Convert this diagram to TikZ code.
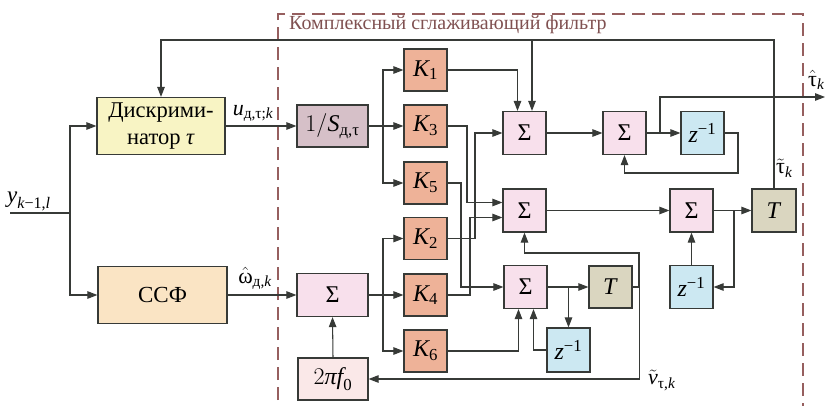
\RequirePackage{fix-cm}
\documentclass[tikz,border=0pt]{standalone}
\usepackage{amsmath}
\usepackage{fontspec}
\setmainfont{Liberation Serif}
\usetikzlibrary{arrows.meta,calc}
\newcommand\mi[1]{\text{\itshape #1}}
\newcommand\mr[1]{\text{\upshape #1}}
\definecolor{cdisc}{RGB}{248,244,196}
\definecolor{cccf}{RGB}{250,228,196}
\definecolor{cinv}{RGB}{214,192,200}
\definecolor{csig}{RGB}{248,224,236}
\definecolor{cK}{RGB}{238,178,152}
\definecolor{cz}{RGB}{204,232,242}
\definecolor{cT}{RGB}{218,214,192}
\definecolor{ctwo}{RGB}{250,232,232}
\definecolor{cline}{RGB}{55,58,55}
\definecolor{cdash}{RGB}{150,95,95}
\tikzset{
  blk/.style={draw=cline, line width=1.2pt, inner sep=0pt, align=center, font=\fontsize{24}{27}\selectfont},
  discbox/.style={blk, fill=cdisc, minimum width=128pt, minimum height=57pt, font=\fontsize{22.5}{27}\selectfont},
  ccfbox/.style={blk, fill=cccf, minimum width=129pt, minimum height=57pt, font=\fontsize{23}{27}\selectfont},
  invbox/.style={blk, fill=cinv, minimum width=71pt, minimum height=42pt},
  sumbig/.style={blk, fill=csig, minimum width=71pt, minimum height=43pt},
  twobox/.style={blk, fill=ctwo, minimum width=70pt, minimum height=42pt},
  kbox/.style={blk, fill=cK, minimum width=43pt, minimum height=42pt},
  sumbox/.style={blk, fill=csig, minimum width=43pt, minimum height=43pt},
  zbox/.style={blk, fill=cz, minimum width=43pt, minimum height=43pt},
  tbox/.style={blk, fill=cT, minimum width=44pt, minimum height=43pt},
  wire/.style={draw=cline, line width=1.05pt},
  arr/.style={wire, -{Triangle[length=10pt,width=7.5pt]}},
  lbl/.style={inner sep=0pt, font=\fontsize{22}{25}\selectfont},
}
\begin{document}
\begin{tikzpicture}[x=1pt,y=-1pt]
\useasboundingbox (0,0) rectangle (827,405);
% dashed frame
\draw[cdash, line width=1.1pt, dash pattern=on 13pt off 7pt] (278,420) -- (278,14) -- (803,14) -- (803,420);
\node[anchor=north west, inner sep=0pt, text=cdash!85!black, font=\fontsize{20}{23}\selectfont] (title) at (289,15) {Комплексный сглаживающий фильтр};

% blocks
\node[discbox] (disc) at (161,126) {Дискрими-\\натор \textit{τ}};
\node[ccfbox] (ccf) at (162.5,295) {ССФ};
\node[invbox] (invs) at (332.5,126) {$1/\mi{S}_{\mr{д,τ}}$};
\node[sumbig] (sig0) at (332.5,295) {Σ};
\node[twobox] (twopi) at (333,379) {$2\mi{πf}_{\mr{0}}$};

\node[kbox] (K1) at (425.5,70) {$\mi{K}_{\mr{1}}$};
\node[kbox] (K3) at (425.5,126) {$\mi{K}_{\mr{3}}$};
\node[kbox] (K5) at (425.5,183) {$\mi{K}_{\mr{5}}$};
\node[kbox] (K2) at (425.5,238.5) {$\mi{K}_{\mr{2}}$};
\node[kbox] (K4) at (425.5,295) {$\mi{K}_{\mr{4}}$};
\node[kbox] (K6) at (425.5,351) {$\mi{K}_{\mr{6}}$};

\node[sumbox] (sA) at (524.5,133) {Σ};
\node[sumbox] (sB) at (524.5,210.5) {Σ};
\node[sumbox] (sC) at (525.5,287) {Σ};
\node[sumbox] (sD) at (624.5,133) {Σ};
\node[zbox] (za) at (702.5,133) {$\mi{z}^{\mr{−1}}$};
\node[sumbox] (sE) at (691.5,210.5) {Σ};
\node[tbox] (Tr) at (774,210.5) {\textit{T}};
\node[zbox] (zr) at (691.5,287) {$\mi{z}^{\mr{−1}}$};
\node[tbox, minimum width=43pt, minimum height=42pt] (Tm) at (610.5,287) {\textit{T}};
\node[zbox, minimum height=44pt] (zb) at (568.5,350) {$\mi{z}^{\mr{−1}}$};

% labels
\node[lbl, anchor=south west, font=\fontsize{23}{25}\selectfont] (ylab) at (7,211) {$\mi{y}_{\mi{k}\mr{−1,}\mi{l}}$};
\node[lbl, anchor=south] (ulab) at (253,122) {$\mi{u}_{\mr{д,τ;}\mi{k}}$};
\node[lbl, anchor=south] (wlab) at (255,290) {$\hat{\mr{ω}}_{\mr{д,}\mi{k}}$};
\node[lbl, anchor=west] (vlab) at (648,380) {$\tilde{\mi{v}}_{\mr{τ,}\mi{k}}$};
\node[lbl, anchor=west] (ttlab) at (776,168) {$\tilde{\mr{τ}}_{\mi{k}}$};
\node[lbl, anchor=west] (thlab) at (808,80) {$\hat{\mr{τ}}_{\mi{k}}$};

% coordinates
\coordinate (yin) at (10,213);
\coordinate (ybr) at (70,213);
\coordinate (b1) at (383,126);
\coordinate (b2) at (383,295);
\coordinate (fbR) at (774,40);
\coordinate (fbS) at (532,40);
\coordinate (vK5) at (461,0);
\coordinate (vK3) at (467,0);
\coordinate (vK4) at (470,0);
\coordinate (vK2) at (475,0);
\coordinate (sBin1) at ([yshift=8pt]sB.west);
\coordinate (sBin2) at ([yshift=-7pt]sB.west);
\coordinate (jC) at (sC.east -| zb.north);
\coordinate (jT) at ([xshift=7pt]Tm.east);
\coordinate (jT2) at (639,253);
\coordinate (jD) at (660,133);
\coordinate (outp) at (825,97);
\coordinate (zaR) at (738,173);
\coordinate (jE) at (734,210.5);

% input
\draw[wire] (yin) -- (ybr);
\draw[arr] (ybr) |- (disc.west);
\draw[arr] (ybr) |- (ccf.west);
\draw[arr] (disc.east) -- (invs.west);
\draw[arr] (ccf.east) -- (sig0.west);
\draw[arr] (twopi.north) -- (sig0.south);

% distribution to K
\draw[wire] (invs.east) -- (b1);
\draw[arr] (b1) |- (K1.west);
\draw[arr] (b1) -- (K3.west);
\draw[arr] (b1) |- (K5.west);
\draw[wire] (sig0.east) -- (b2);
\draw[arr] (b2) |- (K2.west);
\draw[arr] (b2) -- (K4.west);
\draw[arr] (b2) |- (K6.west);

% K to sums
\draw[arr] (K1.east) -| ([xshift=-7pt]sA.north);
\draw[arr] (K2.east) -| (vK2 |- sA.west) -- (sA.west);
\draw[arr] (K3.east) -| (vK3 |- sBin1) -- (sBin1);
\draw[arr] (K4.east) -| (vK4 |- sBin2) -- (sBin2);
\draw[arr] (K5.east) -| (vK5 |- sC.west) -- (sC.west);
\draw[arr] (K6.east) -| ([xshift=-7pt]sC.south);
\draw[arr] (zb.west) -| ([xshift=8pt]sC.south);

% feedback from T
\draw[arr] (Tr.north) -- (fbR) -| (disc.north);
\draw[arr] (fbS) -- (fbS |- sA.north);

% bottom chain
\draw[arr] (sC.east) -- (Tm.west);
\draw[arr] (jC) -- (zb.north);
\draw[arr] (Tm.east) -| (jT2) -| (sB.south);
\draw[arr] (jT) |- (twopi.east);

% top chain
\draw[arr] (sA.east) -- (sD.west);
\draw[arr] (sD.east) -- (za.west);
\draw[arr] (jD) |- (outp);
\draw[arr] (za.east) -| (zaR) -| (sD.south);

% middle chain
\draw[arr] (sB.east) -- (sE.west);
\draw[arr] (sE.east) -- (Tr.west);
\draw[arr] (jE) |- (zr.east);
\draw[arr] (zr.north) -- (sE.south);
\end{tikzpicture}
\end{document}
